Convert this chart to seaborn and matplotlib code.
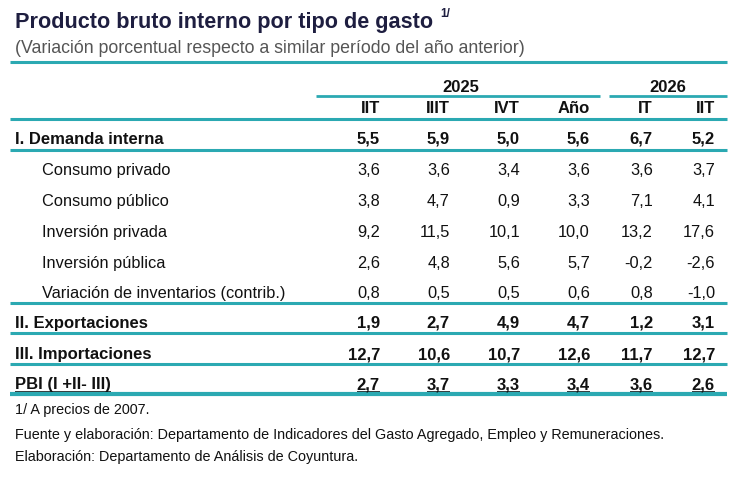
import matplotlib
matplotlib.use('Agg')
import matplotlib.pyplot as plt
import seaborn as sns

sns.set_theme(style='white')
plt.rcParams['font.family'] = ['Liberation Sans', 'DejaVu Sans']

teal = '#2BA9B2'
navy = '#1E1E40'
grey = '#555555'
ink = '#111111'

title = 'Producto bruto interno por tipo de gasto'
subtitle = '(Variación porcentual respecto a similar período del año anterior)'
years = ['2025', '2026']
periods = ['IIT', 'IIIT', 'IVT', 'Año', 'IT', 'IIT']
rows = ['I. Demanda interna', 'Consumo privado', 'Consumo público', 'Inversión privada',
        'Inversión pública', 'Variación de inventarios (contrib.)',
        'II. Exportaciones', 'III. Importaciones', 'PBI (I +II- III)']
bold_rows = [True, False, False, False, False, False, True, True, True]
values = [
    [5.5, 5.9, 5.0, 5.6, 6.7, 5.2],
    [3.6, 3.6, 3.4, 3.6, 3.6, 3.7],
    [3.8, 4.7, 0.9, 3.3, 7.1, 4.1],
    [9.2, 11.5, 10.1, 10.0, 13.2, 17.6],
    [2.6, 4.8, 5.6, 5.7, -0.2, -2.6],
    [0.8, 0.5, 0.5, 0.6, 0.8, -1.0],
    [1.9, 2.7, 4.9, 4.7, 1.2, 3.1],
    [12.7, 10.6, 10.7, 12.6, 11.7, 12.7],
    [2.7, 3.7, 3.3, 3.4, 3.6, 2.6],
]
notes = ['1/ A precios de 2007.',
         'Fuente y elaboración: Departamento de Indicadores del Gasto Agregado, Empleo y Remuneraciones.',
         'Elaboración: Departamento de Análisis de Coyuntura.']

fig = plt.figure(figsize=(7.37, 4.79), dpi=100)
ax = fig.add_axes([0, 0, 1, 1])
ax.set_xlim(0, 737)
ax.set_ylim(479, 0)
ax.axis('off')

col_right = [380, 450, 520, 590, 653, 715]
row_base = [144, 175, 206, 237, 268, 298, 328, 359, 389]
lines_after = {0: 150, 5: 303, 6: 333, 7: 364, 8: 394}

ax.text(15, 28, title, fontsize=15.6, fontweight='bold', color=navy, va='baseline')
ax.text(440, 17, '1/', fontsize=8.5, fontweight='bold', color=navy, va='baseline')
ax.text(15, 53, subtitle, fontsize=12.8, color=grey, va='baseline')

ax.plot([10, 727], [62, 62], color=teal, lw=2.2, solid_capstyle='butt')
for cx, yr in zip([461, 668], years):
    ax.text(cx, 92, yr, fontsize=12, fontweight='bold', color=ink, ha='center', va='baseline')
ax.plot([316, 600], [96, 96], color=teal, lw=2, solid_capstyle='butt')
ax.plot([609, 727], [96, 96], color=teal, lw=2, solid_capstyle='butt')
for x, p in zip(col_right, periods):
    ax.text(x, 113, p, fontsize=12, fontweight='bold', color=ink, ha='right', va='baseline')
ax.plot([10, 727], [119, 119], color=teal, lw=2.2, solid_capstyle='butt')

fig.canvas.draw()
renderer = fig.canvas.get_renderer()
inv = ax.transData.inverted()

for i, (name, vals) in enumerate(zip(rows, values)):
    y = row_base[i]
    bold = bold_rows[i]
    x0 = 15 if bold else 42
    kw = dict(fontsize=12, color=ink, va='baseline')
    if bold:
        kw.update(fontweight='bold')
    else:
        kw.update(fontsize=11.8)
    t = ax.text(x0, y, name, **kw)
    cells = [t]
    for x, v in zip(col_right, vals):
        cells.append(ax.text(x, y, f'{v:.1f}'.replace('.', ','), ha='right', **kw))
    if i == len(rows) - 1:
        fig.canvas.draw()
        for c in cells:
            bb = c.get_window_extent(renderer)
            (xa, _), (xb, _) = inv.transform([[bb.x0, bb.y0], [bb.x1, bb.y0]])
            ax.plot([xa, xb], [y + 2.5, y + 2.5], color=ink, lw=1.2, solid_capstyle='butt')
    if i in lines_after:
        ax.plot([10, 727], [lines_after[i]] * 2, color=teal, lw=3 if i == 8 else 2.2,
                solid_capstyle='butt')

for y, n in zip([414, 439, 461], notes):
    ax.text(15, y, n, fontsize=10.4, color=ink, va='baseline')

fig.savefig('out.png', dpi=100, facecolor='white')
